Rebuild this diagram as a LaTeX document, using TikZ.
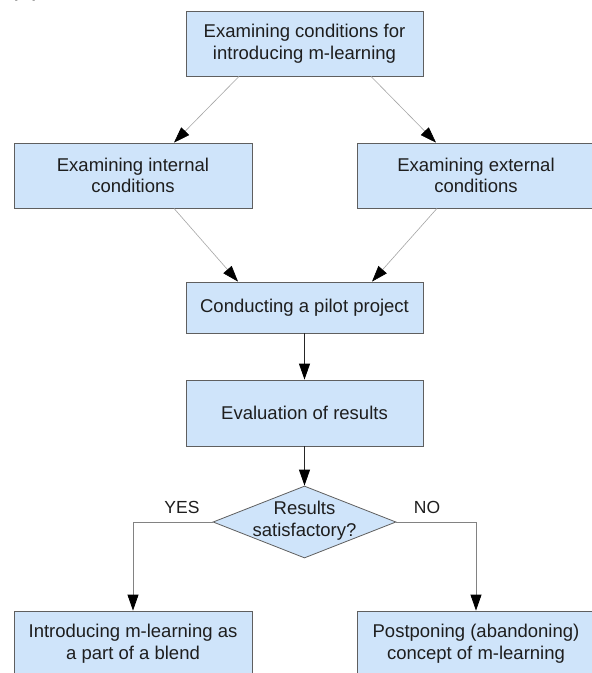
\documentclass[tikz,border=0pt]{standalone}
\usepackage{fontspec}
\setmainfont{Liberation Sans}
\usetikzlibrary{shapes.geometric,arrows.meta}
\definecolor{boxfill}{RGB}{207,228,250}
\definecolor{boxline}{RGB}{95,95,95}
\definecolor{txtcol}{RGB}{30,30,30}
\definecolor{thinline}{RGB}{165,165,165}
\definecolor{midline}{RGB}{130,130,130}
\begin{document}
\begin{tikzpicture}[x=1pt,y=-1pt,
  stepbox/.style={draw=boxline, line width=0.8pt, fill=boxfill, text=txtcol,
    align=center, inner sep=0pt, minimum width=237pt, minimum height=65pt,
    font=\fontsize{18.5}{21.5}\selectfont},
  decision/.style={shape=diamond, draw=boxline, line width=0.8pt, fill=boxfill,
    inner sep=0pt, minimum width=183pt, minimum height=72pt},
  txt/.style={text=txtcol, align=center, inner sep=0pt,
    font=\fontsize{18.5}{22}\selectfont},
  tip/.style={-{Triangle[length=16pt,width=11pt,color=black,fill=black]}},
  diag/.style={tip, draw=thinline, line width=0.6pt},
  vert/.style={tip, draw=black!85, line width=0.8pt},
  branch/.style={tip, draw=midline, line width=0.8pt}
]
\useasboundingbox (0,0) rectangle (592,673);
\fill[white] (0,0) rectangle (592,673);

% cropped label at top-left
\node[anchor=base west, inner sep=0pt, text=txtcol, font=\fontsize{26}{30}\selectfont] (lbl) at (9,-5) {(b)};

\node[stepbox] (top) at (304.5,43.5) {Examining conditions for\\introducing m-learning};
\node[stepbox, minimum width=238pt] (intl) at (133,175.5) {Examining internal\\conditions};
\node[stepbox, minimum width=238pt] (extl) at (476,175.5) {Examining external\\conditions};
\node[stepbox, minimum height=51pt] (pilot) at (304.5,307.5) {Conducting a pilot project};
\node[stepbox, minimum height=66pt] (eval) at (304.5,413) {Evaluation of results};
\node[decision] (dec) at (304.5,522) {};
\node[txt] (dectxt) at (304.5,521) {Results\\satisfactory?};
\node[stepbox, minimum width=238pt] (yesbox) at (133,643.5) {Introducing m-learning as\\a part of a blend};
\node[stepbox, minimum width=238pt] (nobox) at (476,643.5) {Postponing (abandoning)\\concept of m-learning};

\node[txt, font=\fontsize{17.5}{20}\selectfont] (yes) at (182,507) {YES};
\node[txt, font=\fontsize{17.5}{20}\selectfont] (no) at (427,507) {NO};

\draw[diag] ([xshift=-65.5pt]top.south) -- ([xshift=41pt]intl.north);
\draw[diag] ([xshift=66.5pt]top.south) -- ([xshift=-40pt]extl.north);
\draw[diag] ([xshift=41pt]intl.south) -- ([xshift=-66.5pt]pilot.north);
\draw[diag] ([xshift=-39pt]extl.south) -- ([xshift=67.5pt]pilot.north);
\draw[vert] (pilot.south) -- (eval.north);
\draw[vert] (eval.south) -- (dec.north);
\draw[branch] (dec.west) -| (yesbox.north);
\draw[branch] (dec.east) -| (nobox.north);
\end{tikzpicture}
\end{document}
